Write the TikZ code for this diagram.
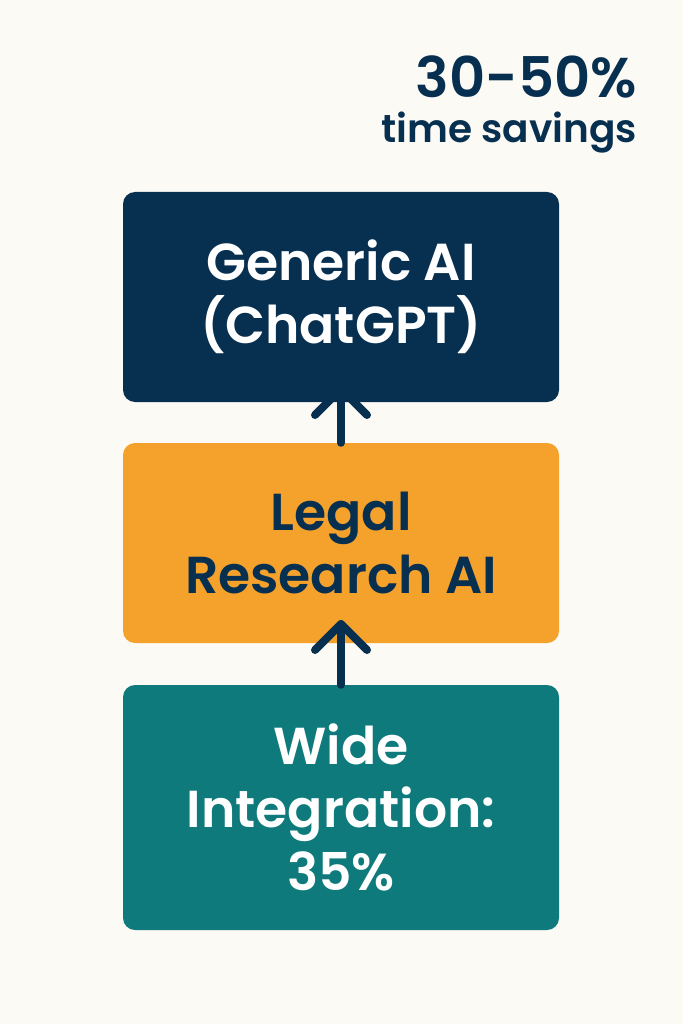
\documentclass[tikz,border=0pt]{standalone}
\usepackage{fontspec}
\usetikzlibrary{calc}
\setmainfont{Poppins}[BoldFont={Poppins SemiBold}]
\begin{document}
\begin{tikzpicture}[x=1pt,y=-1pt,
  box/.style={draw=none,rounded corners=12pt,minimum width=436pt,inner sep=0pt,align=center,font=\fontsize{52}{63}\selectfont\bfseries},
  arr/.style={draw=navy,line width=8pt,line cap=round,line join=round}]
\definecolor{bg}{HTML}{FCFAF5}
\definecolor{navy}{HTML}{072F50}
\definecolor{orng}{HTML}{F5A22D}
\definecolor{teal2}{HTML}{0F7A7C}
\fill[bg] (0,0) rectangle (683,1024);
\useasboundingbox (0,0) rectangle (683,1024);
\node[anchor=east,inner sep=0pt,text=navy,font=\fontsize{56}{60}\selectfont\bfseries] (pct) at (637,77) {30-50\%};
\node[anchor=east,inner sep=0pt,text=navy,font=\fontsize{39}{44}\selectfont\bfseries] (ts) at (637,133) {time savings};
\node[box,fill=navy,text=white,minimum height=210pt] (top) at (341,297) {Generic AI\\(ChatGPT)};
\node[box,fill=orng,text=navy,minimum height=200pt] (mid) at (341,543) {Legal\\Research AI};
\node[box,fill=teal2,text=white,minimum height=245pt] (bot) at (341,807.5) {Wide\\Integration:\\35\%};
\coordinate (t1) at (341,389);
\coordinate (t2) at (341,624);
\draw[arr] (mid.north) -- (t1);
\draw[arr] ($(t1)+(-26,26)$) -- (t1) -- ($(t1)+(26,26)$);
\draw[arr] (bot.north) -- (t2);
\draw[arr] ($(t2)+(-26,26)$) -- (t2) -- ($(t2)+(26,26)$);
\end{tikzpicture}
\end{document}
